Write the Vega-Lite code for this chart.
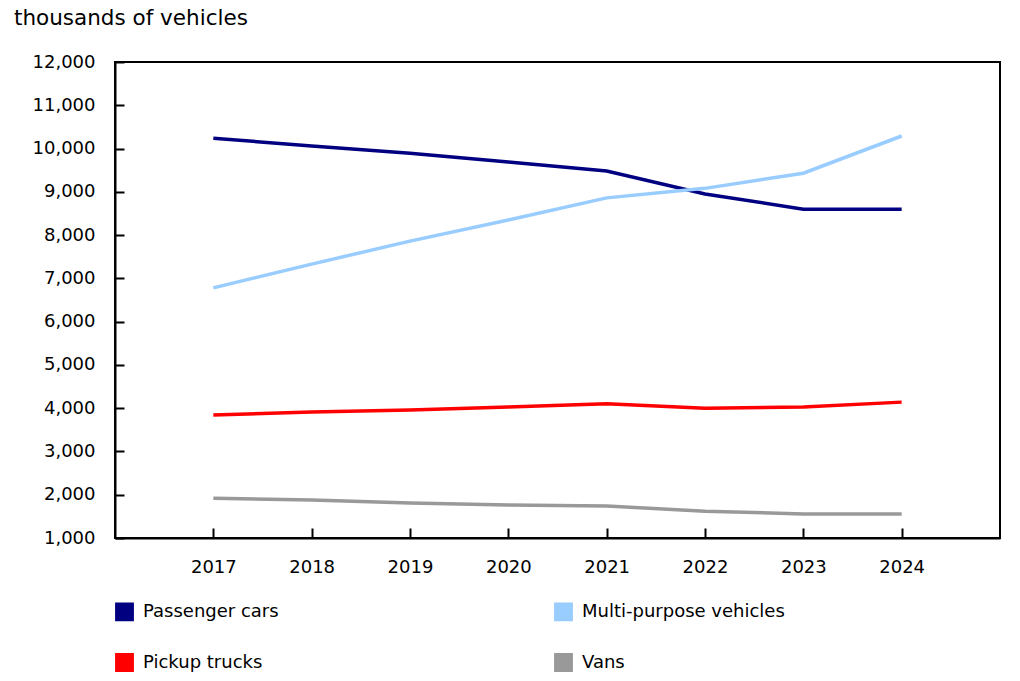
{
  "$schema": "https://vega.github.io/schema/vega-lite/v6.json",
  "width": 885,
  "height": 476,
  "autosize": {"type": "none"},
  "padding": {"left": 115, "top": 62, "right": 20, "bottom": 143},
  "background": "white",
  "title": {
    "text": "thousands of vehicles",
    "anchor": "start",
    "frame": "group",
    "dx": -101,
    "offset": 24,
    "font": "DejaVu Sans",
    "fontSize": 21.5,
    "fontWeight": "normal",
    "color": "#000000"
  },
  "config": {
    "view": {"stroke": "#000000", "strokeWidth": 2},
    "font": "DejaVu Sans",
    "axis": {
      "grid": false,
      "domainColor": "#000000",
      "domainWidth": 2,
      "tickColor": "#000000",
      "tickWidth": 2,
      "labelFont": "DejaVu Sans",
      "labelFontSize": 18,
      "labelColor": "#000000",
      "title": null
    },
    "legend": {
      "labelFont": "DejaVu Sans",
      "labelFontSize": 18,
      "labelColor": "#000000",
      "symbolStrokeColor": "#000000",
      "symbolStrokeWidth": 1.5
    }
  },
  "data": {
    "values": [
      {"year": "2017", "type": "Passenger cars", "value": 10240},
      {"year": "2018", "type": "Passenger cars", "value": 10060},
      {"year": "2019", "type": "Passenger cars", "value": 9890},
      {"year": "2020", "type": "Passenger cars", "value": 9690},
      {"year": "2021", "type": "Passenger cars", "value": 9480},
      {"year": "2022", "type": "Passenger cars", "value": 8950},
      {"year": "2023", "type": "Passenger cars", "value": 8600},
      {"year": "2024", "type": "Passenger cars", "value": 8600},
      {"year": "2017", "type": "Multi-purpose vehicles", "value": 6780},
      {"year": "2018", "type": "Multi-purpose vehicles", "value": 7330},
      {"year": "2019", "type": "Multi-purpose vehicles", "value": 7860},
      {"year": "2020", "type": "Multi-purpose vehicles", "value": 8350},
      {"year": "2021", "type": "Multi-purpose vehicles", "value": 8860},
      {"year": "2022", "type": "Multi-purpose vehicles", "value": 9080},
      {"year": "2023", "type": "Multi-purpose vehicles", "value": 9430},
      {"year": "2024", "type": "Multi-purpose vehicles", "value": 10290},
      {"year": "2017", "type": "Pickup trucks", "value": 3840},
      {"year": "2018", "type": "Pickup trucks", "value": 3910},
      {"year": "2019", "type": "Pickup trucks", "value": 3960},
      {"year": "2020", "type": "Pickup trucks", "value": 4030},
      {"year": "2021", "type": "Pickup trucks", "value": 4100},
      {"year": "2022", "type": "Pickup trucks", "value": 4000},
      {"year": "2023", "type": "Pickup trucks", "value": 4030},
      {"year": "2024", "type": "Pickup trucks", "value": 4140},
      {"year": "2017", "type": "Vans", "value": 1920},
      {"year": "2018", "type": "Vans", "value": 1880},
      {"year": "2019", "type": "Vans", "value": 1810},
      {"year": "2020", "type": "Vans", "value": 1760},
      {"year": "2021", "type": "Vans", "value": 1740},
      {"year": "2022", "type": "Vans", "value": 1620},
      {"year": "2023", "type": "Vans", "value": 1555},
      {"year": "2024", "type": "Vans", "value": 1555}
    ]
  },
  "encoding": {
    "x": {
      "field": "year",
      "type": "ordinal",
      "scale": {"type": "point", "padding": 1},
      "axis": {"labelAngle": 0, "tickSize": -10, "labelPadding": 30}
    },
    "y": {
      "field": "value",
      "type": "quantitative",
      "scale": {"domain": [1000, 12000], "nice": false, "zero": false},
      "axis": {"values": [1000, 2000, 3000, 4000, 5000, 6000, 7000, 8000, 9000, 10000, 11000, 12000], "format": ",d", "tickSize": -9, "labelPadding": 29}
    }
  },
  "layer": [
    {
      "mark": {"type": "square", "filled": true, "fillOpacity": 0},
      "encoding": {
        "fill": {
          "field": "type",
          "type": "nominal",
          "sort": ["Passenger cars", "Multi-purpose vehicles", "Pickup trucks", "Vans"],
          "scale": {
            "domain": ["Passenger cars", "Multi-purpose vehicles", "Pickup trucks", "Vans"],
            "range": ["#000080", "#99CCFF", "#FF0000", "#999999"]
          },
          "legend": {
            "title": null,
            "orient": "none",
            "legendX": 0,
            "legendY": 540,
            "direction": "horizontal",
            "columns": 2,
            "symbolType": "square",
            "symbolSize": 300,
            "symbolStrokeColor": "#000000",
            "symbolStrokeWidth": 1.5,
            "symbolOpacity": 1,
            "labelOffset": 9,
            "labelLimit": 0,
            "columnPadding": 272,
            "rowPadding": 26,
            "encode": {
              "symbols": {
                "update": {
                  "fillOpacity": {"value": 1},
                  "strokeOpacity": {"value": 1},
                  "stroke": {"value": "#000000"},
                  "strokeWidth": {"value": 1.5}
                }
              }
            }
          }
        }
      }
    },
    {
      "mark": {"type": "line", "strokeWidth": 3.5},
      "encoding": {
        "stroke": {
          "field": "type",
          "type": "nominal",
          "scale": {
            "domain": ["Passenger cars", "Multi-purpose vehicles", "Pickup trucks", "Vans"],
            "range": ["#000080", "#99CCFF", "#FF0000", "#999999"]
          },
          "legend": null
        }
      }
    }
  ]
}
